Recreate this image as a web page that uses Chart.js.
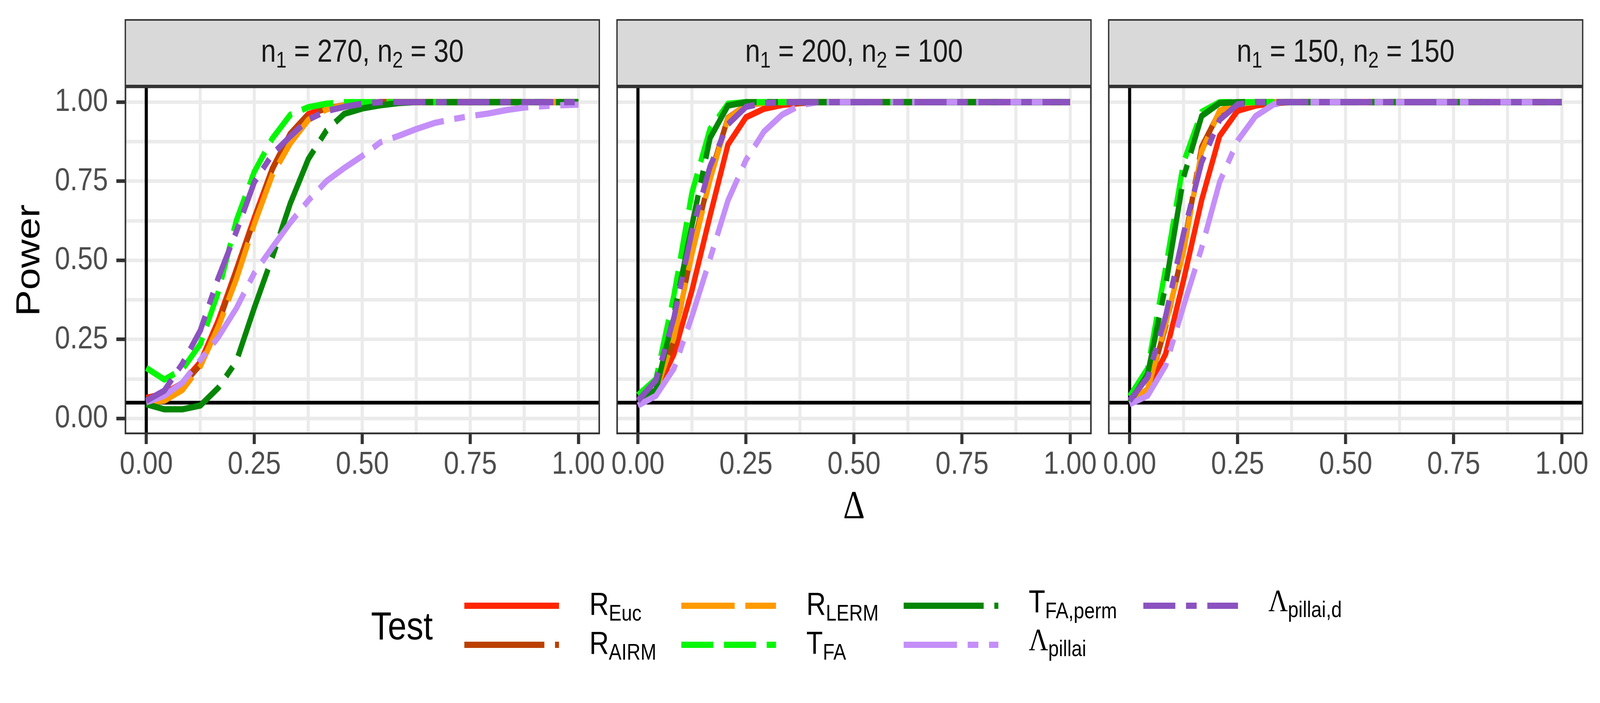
<!DOCTYPE html>
<html>
<head>
<meta charset="utf-8">
<script src="https://cdn.jsdelivr.net/npm/chart.js@4.4.1/dist/chart.umd.min.js"></script>
<style>
html,body{margin:0;padding:0;background:#fff;overflow:hidden;width:100%;height:100%;}
#page{position:absolute;left:0;top:0;width:4800px;height:1800px;overflow:hidden;background:#fff;font-family:'Liberation Sans',Arial,sans-serif;transform-origin:0 0;}
#page canvas{position:absolute;}
.strip{position:absolute;box-sizing:border-box;border:4.7px solid #333333;background:#D9D9D9;}
.striptxt{position:absolute;text-align:center;font-size:81px;line-height:81px;color:#1A1A1A;white-space:nowrap;}
.sub{font-size:57px;position:relative;top:15px;}
.lab{position:absolute;font-size:81px;line-height:81px;color:#000;white-space:nowrap;}
.serif{font-family:'Liberation Serif','DejaVu Serif',serif;}
.ltitle{position:absolute;font-size:101px;line-height:101px;color:#000;white-space:nowrap;}
svg.key{position:absolute;overflow:visible;}
</style>
</head>
<body>
<div id="page"></div>
<script>
// ---------------- data ----------------
const delta = [0, 0.0417, 0.0833, 0.125, 0.1667, 0.2083, 0.25, 0.2917, 0.3333, 0.375, 0.4167, 0.4583, 0.5, 0.5417, 0.5833, 0.625, 0.6667, 0.7083, 0.75, 0.7917, 0.8333, 0.875, 0.9167, 0.9583, 1];

const n1Values = [270, 200, 150];
const n2Values = [30, 100, 150];

const majorBreaks = [0, 0.25, 0.5, 0.75, 1];
const minorBreaks = [0.125, 0.375, 0.625, 0.875];
const alphaLevel = 0.05;
const vlineAt = 0;

// panel 1: n1 = 270, n2 = 30
const rEuc1     = [0.065,0.078,0.112,0.178,0.310,0.470,0.635,0.790,0.900,0.962,0.980,0.990,0.996,1,1,1,1,1,1,1,1,1,1,1,1];
const rAirm1    = [0.060,0.072,0.105,0.170,0.300,0.465,0.630,0.788,0.900,0.962,0.980,0.990,0.996,1,1,1,1,1,1,1,1,1,1,1,1];
const rLerm1    = [0.050,0.056,0.090,0.165,0.290,0.440,0.615,0.770,0.870,0.944,0.977,0.990,0.996,1,1,1,1,1,1,1,1,1,1,1,1];
const tFa1      = [0.160,0.123,0.155,0.235,0.400,0.625,0.780,0.885,0.960,0.984,0.995,1,1,1,1,1,1,1,1,1,1,1,1,1,1];
const tFaPerm1  = [0.045,0.029,0.029,0.041,0.097,0.180,0.350,0.510,0.680,0.820,0.910,0.963,0.980,0.990,0.997,1,1,1,1,1,1,1,1,1,1];
const lPillai1  = [0.051,0.072,0.113,0.185,0.257,0.348,0.460,0.541,0.619,0.689,0.750,0.792,0.830,0.873,0.893,0.915,0.934,0.946,0.956,0.964,0.975,0.983,0.987,0.990,0.992];
const lPillaiD1 = [0.056,0.088,0.173,0.278,0.445,0.590,0.747,0.835,0.892,0.945,0.972,0.985,0.995,1,1,1,1,1,1,1,1,1,1,1,1];

// panel 2: n1 = 200, n2 = 100
const rEuc2     = [0.060,0.085,0.204,0.405,0.640,0.866,0.952,0.979,0.991,0.997,1,1,1,1,1,1,1,1,1,1,1,1,1,1,1];
const rAirm2    = [0.055,0.088,0.245,0.530,0.765,0.950,0.990,0.998,1,1,1,1,1,1,1,1,1,1,1,1,1,1,1,1,1];
const rLerm2    = [0.055,0.087,0.256,0.520,0.755,0.948,0.990,0.998,1,1,1,1,1,1,1,1,1,1,1,1,1,1,1,1,1];
const tFa2      = [0.074,0.125,0.390,0.714,0.915,0.995,1,1,1,1,1,1,1,1,1,1,1,1,1,1,1,1,1,1,1];
const tFaPerm2  = [0.055,0.090,0.327,0.611,0.886,0.989,1,1,1,1,1,1,1,1,1,1,1,1,1,1,1,1,1,1,1];
const lPillai2  = [0.041,0.072,0.158,0.323,0.504,0.689,0.817,0.907,0.960,0.990,1,1,1,1,1,1,1,1,1,1,1,1,1,1,1];
const lPillaiD2 = [0.056,0.121,0.319,0.592,0.796,0.930,0.985,0.997,1,1,1,1,1,1,1,1,1,1,1,1,1,1,1,1,1];

// panel 3: n1 = 150, n2 = 150
const rEuc3     = [0.050,0.090,0.204,0.438,0.690,0.893,0.973,0.989,0.997,1,1,1,1,1,1,1,1,1,1,1,1,1,1,1,1];
const rAirm3    = [0.050,0.092,0.290,0.540,0.858,0.970,0.995,1,1,1,1,1,1,1,1,1,1,1,1,1,1,1,1,1,1];
const rLerm3    = [0.050,0.093,0.298,0.530,0.845,0.973,0.995,1,1,1,1,1,1,1,1,1,1,1,1,1,1,1,1,1,1];
const tFa3      = [0.070,0.158,0.475,0.810,0.969,1,1,1,1,1,1,1,1,1,1,1,1,1,1,1,1,1,1,1,1];
const tFaPerm3  = [0.050,0.140,0.420,0.763,0.956,0.997,1,1,1,1,1,1,1,1,1,1,1,1,1,1,1,1,1,1,1];
const lPillai3  = [0.045,0.072,0.167,0.356,0.539,0.747,0.878,0.956,0.993,1,1,1,1,1,1,1,1,1,1,1,1,1,1,1,1];
const lPillaiD3 = [0.056,0.130,0.323,0.586,0.810,0.944,0.993,1,1,1,1,1,1,1,1,1,1,1,1,1,1,1,1,1,1];

const testNames = ['R_Euc', 'R_AIRM', 'R_LERM', 'T_FA', 'T_FA,perm', 'Λ_pillai', 'Λ_pillai,d'];

const panelSeries = [
  [rEuc1, rAirm1, rLerm1, tFa1, tFaPerm1, lPillai1, lPillaiD1],
  [rEuc2, rAirm2, rLerm2, tFa2, tFaPerm2, lPillai2, lPillaiD2],
  [rEuc3, rAirm3, rLerm3, tFa3, tFaPerm3, lPillai3, lPillaiD3]
];

// ---------------- styles ----------------
const testColors = ['#FF2600', '#BB4000', '#FF9A00', '#06F606', '#058605', '#C48FF8', '#8B52C0'];
const testDashes = [[], [240,32,32,32], [160,32], [96,32], [240,32,32,32], [160,32,32,32], [96,32,32,32]];
const testLabelHtml = [
  'R<span class="sub">Euc</span>',
  'R<span class="sub">AIRM</span>',
  'R<span class="sub">LERM</span>',
  'T<span class="sub">FA</span>',
  'T<span class="sub">FA,perm</span>',
  '<span class="serif">Λ</span><span class="sub">pillai</span>',
  '<span class="serif">Λ</span><span class="sub">pillai,d</span>'
];
const labelBaselineShift = [23.3, 23.3, 23.3, 23.3, 17.3, 14.7, 14.7];

const LINE_W = 16;
const PANEL_LEFT = [374, 1849, 3324];
const PANEL_TOP = 221, PANEL_W = 1426, PANEL_H = 891;
const Y_AXIS_W = [374, 60, 60];
const X_AXIS_H = 260, PAD_TOP = 20, PAD_RIGHT = 60;
const FONT = "'Liberation Sans', Arial, sans-serif";

const page = document.getElementById('page');
// stretch the 4800x1800 design so that it fills the actual viewport
const vw = window.innerWidth || 4800, vh = window.innerHeight || 1800;
const SX = vw / 4800, SY = vh / 1800;
page.style.transform = 'scale(' + SX + ',' + SY + ')';

const gridBreaks = majorBreaks.concat(minorBreaks).sort((a, b) => a - b);
const isMajor = v => majorBreaks.some(m => Math.abs(m - v) < 1e-9);

const panelPlugin = {
  id: 'panelDeco',
  beforeDatasetsDraw(chart) {
    const {ctx, chartArea: a, scales: {x, y}} = chart;
    ctx.save();
    ctx.beginPath();
    ctx.rect(a.left, a.top, a.right - a.left, a.bottom - a.top);
    ctx.clip();
    ctx.strokeStyle = '#000000';
    ctx.lineWidth = 9.3;
    ctx.lineCap = 'butt';
    const px = x.getPixelForValue(vlineAt);
    ctx.beginPath(); ctx.moveTo(px, a.top); ctx.lineTo(px, a.bottom); ctx.stroke();
    const py = y.getPixelForValue(alphaLevel);
    ctx.beginPath(); ctx.moveTo(a.left, py); ctx.lineTo(a.right, py); ctx.stroke();
    ctx.restore();
  },
  afterDraw(chart) {
    const {ctx, chartArea: a} = chart;
    ctx.save();
    ctx.strokeStyle = '#333333';
    ctx.lineWidth = 4.7;
    ctx.strokeRect(a.left + 2.35, a.top + 2.35, a.right - a.left - 4.7, a.bottom - a.top - 4.7);
    ctx.restore();
  }
};

function zeroPad(s) { s.paddingLeft = 0; s.paddingRight = 0; s.paddingTop = 0; s.paddingBottom = 0; }

for (let p = 0; p < 3; p++) {
  // strip
  const strip = document.createElement('div');
  strip.className = 'strip';
  Object.assign(strip.style, {left: PANEL_LEFT[p] + 'px', top: '49px', width: PANEL_W + 'px', height: (PANEL_TOP - 49) + 'px'});
  page.appendChild(strip);
  const st = document.createElement('div');
  st.className = 'striptxt';
  Object.assign(st.style, {left: PANEL_LEFT[p] + 'px', top: (158.3 - 68.6) + 'px', width: PANEL_W + 'px'});
  st.innerHTML = 'n<span class="sub">1</span> = ' + n1Values[p] + ', n<span class="sub">2</span> = ' + n2Values[p];
  page.appendChild(st);

  // canvas
  const cw = Y_AXIS_W[p] + PANEL_W + PAD_RIGHT;
  const ch = PAD_TOP + PANEL_H + X_AXIS_H;
  const cv = document.createElement('canvas');
  cv.width = cw; cv.height = ch;
  Object.assign(cv.style, {left: (PANEL_LEFT[p] - Y_AXIS_W[p]) + 'px', top: (PANEL_TOP - PAD_TOP) + 'px', width: cw + 'px', height: ch + 'px'});
  page.appendChild(cv);

  const datasets = testNames.map((name, k) => ({
    label: name,
    data: delta.map((d, i) => ({x: d, y: panelSeries[p][k][i]})),
    borderColor: testColors[k],
    backgroundColor: testColors[k],
    borderWidth: LINE_W,
    borderDash: testDashes[k],
    borderCapStyle: 'butt',
    borderJoinStyle: 'round',
    pointRadius: 0,
    pointHoverRadius: 0,
    fill: false,
    tension: 0,
    order: testNames.length - k
  }));

  const tickFont = {family: FONT, size: 82, lineHeight: 1.2};
  new Chart(cv, {
    type: 'line',
    data: {datasets},
    options: {
      responsive: false,
      animation: false,
      devicePixelRatio: 1,
      events: [],
      layout: {padding: {top: PAD_TOP, right: PAD_RIGHT, bottom: 0, left: 0}},
      plugins: {legend: {display: false}, tooltip: {enabled: false}},
      scales: {
        x: {
          type: 'linear', min: -0.05, max: 1.05,
          afterBuildTicks: s => { s.ticks = gridBreaks.map(v => ({value: v})); },
          afterFit: s => { s.height = X_AXIS_H; zeroPad(s); },
          ticks: {autoSkip: false, maxRotation: 0, minRotation: 0, padding: 4, color: '#4D4D4D', font: tickFont,
                  callback: v => isMajor(v) ? v.toFixed(2) : ''},
          grid: {color: '#EBEBEB', lineWidth: 9.3, drawTicks: true, tickLength: 25, tickWidth: 9.3,
                 tickColor: c => (c.tick && isMajor(c.tick.value)) ? '#333333' : 'rgba(0,0,0,0)'},
          border: {display: false},
          title: {display: p === 1, text: 'Δ', color: '#000000',
                  font: {family: "'Liberation Serif', 'DejaVu Serif', serif", size: 101, lineHeight: 1.2},
                  padding: {top: 0, bottom: 11}}
        },
        y: {
          type: 'linear', min: -0.05, max: 1.05,
          afterBuildTicks: s => { s.ticks = gridBreaks.map(v => ({value: v})); },
          afterFit: s => { s.width = Y_AXIS_W[p]; zeroPad(s); },
          ticks: {display: p === 0, autoSkip: false, padding: 25, color: '#4D4D4D', font: tickFont,
                  callback: v => isMajor(v) ? v.toFixed(2) : ''},
          grid: {color: '#EBEBEB', lineWidth: 9.3, drawTicks: p === 0, tickLength: 25, tickWidth: 9.3,
                 tickColor: c => (c.tick && isMajor(c.tick.value)) ? '#333333' : 'rgba(0,0,0,0)'},
          border: {display: false},
          title: {display: p === 0, text: 'Power', color: '#000000',
                  font: {family: FONT, size: 101, lineHeight: 1.2},
                  padding: {top: 30, bottom: 0}}
        }
      }
    },
    plugins: [panelPlugin]
  });
}

// ---------------- legend ----------------
const KEY_X = [1393, 2044, 2711, 3430];
const ROW_Y = [1551, 1651];
const KEY_LEN = 284, LABEL_OFF = 375;

const lt = document.createElement('div');
lt.className = 'ltitle';
lt.textContent = 'Test';
Object.assign(lt.style, {left: '1113px', top: (1637 - 85.5) + 'px'});
page.appendChild(lt);

const SVGNS = 'http://www.w3.org/2000/svg';
testNames.forEach((name, k) => {
  const col = Math.floor(k / 2), row = k % 2;
  const kx = KEY_X[col], ky = ROW_Y[row];
  const svg = document.createElementNS(SVGNS, 'svg');
  svg.setAttribute('class', 'key');
  svg.setAttribute('width', KEY_LEN);
  svg.setAttribute('height', LINE_W);
  svg.style.left = kx + 'px';
  svg.style.top = (ky - LINE_W / 2) + 'px';
  const ln = document.createElementNS(SVGNS, 'line');
  ln.setAttribute('x1', 0); ln.setAttribute('x2', KEY_LEN);
  ln.setAttribute('y1', LINE_W / 2); ln.setAttribute('y2', LINE_W / 2);
  ln.setAttribute('stroke', testColors[k]);
  ln.setAttribute('stroke-width', LINE_W);
  ln.setAttribute('stroke-linecap', 'butt');
  if (testDashes[k].length) ln.setAttribute('stroke-dasharray', testDashes[k].join(' '));
  svg.appendChild(ln);
  page.appendChild(svg);

  const lab = document.createElement('div');
  lab.className = 'lab';
  lab.innerHTML = testLabelHtml[k];
  Object.assign(lab.style, {left: (kx + LABEL_OFF) + 'px', top: (ky + labelBaselineShift[k] - 68.6) + 'px'});
  page.appendChild(lab);
});
</script>
</body>
</html>
